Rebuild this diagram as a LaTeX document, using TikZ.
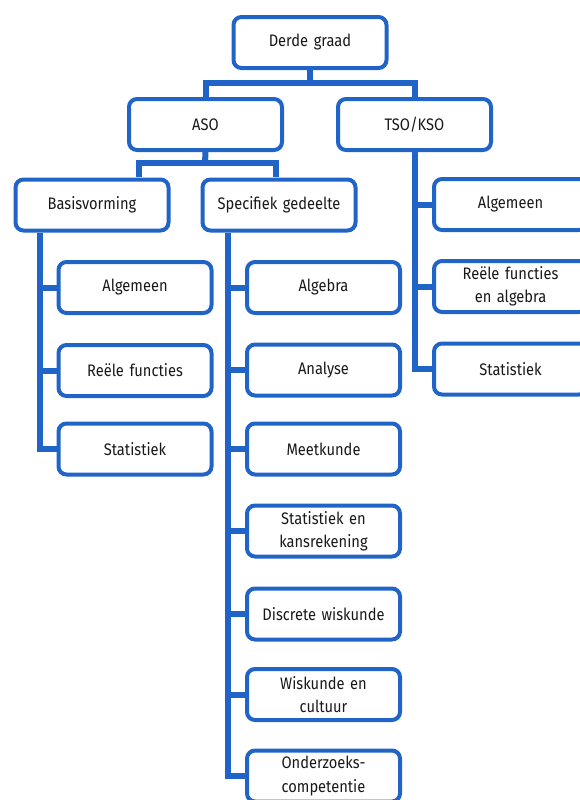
\documentclass[tikz,border=0pt]{standalone}
\usepackage{fontspec}
\setmainfont{Fira Sans}[FakeStretch=0.88]
\definecolor{vblue}{RGB}{32,100,200}
\definecolor{vtext}{RGB}{25,25,25}
\tikzset{
  box/.style={draw=vblue, line width=3pt, rounded corners=6pt, fill=white,
    minimum width=114.75pt, minimum height=38.25pt, inner sep=1pt,
    align=center, text width=108pt, text=vtext,
    font=\fontsize{12.5pt}{17.5pt}\selectfont},
  link/.style={draw=vblue, line width=4.5pt}
}
\begin{document}
\begin{tikzpicture}[x=0.75pt,y=-0.75pt]
\useasboundingbox (0,0) rectangle (580,800);
\clip (0,0) rectangle (580,800);
% connectors first
\coordinate (j1) at (310,83);
\coordinate (j2) at (205,163);
\coordinate (bd) at (139,177);
\coordinate (sd) at (276,177);
\coordinate (bt) at (40,233);
\coordinate (st) at (228,233);
\coordinate (tt) at (415,152);
% nodes
\node[box] (top) at (310,42.5) {Derde graad};
\node[box] (aso) at (205.5,124.5) {ASO};
\node[box] (tso) at (414.5,124.5) {TSO/KSO};
\node[box] (bas) at (92,205) {Basisvorming};
\node[box] (spec) at (279,205) {Specifiek gedeelte};
\node[box] (ba1) at (135,287.5) {Algemeen};
\node[box] (ba2) at (135,370.5) {Reële functies};
\node[box] (ba3) at (135,449) {Statistiek};
\node[box] (sp1) at (323.5,287.5) {Algebra};
\node[box] (sp2) at (323.5,370) {Analyse};
\node[box] (sp3) at (323.5,449) {Meetkunde};
\node[box] (sp4) at (323.5,531) {Statistiek en\\kansrekening};
\node[box] (sp5) at (323.5,614) {Discrete wiskunde};
\node[box] (sp6) at (323.5,694.5) {Wiskunde en\\cultuur};
\node[box] (sp7) at (323.5,776) {Onderzoeks-\\competentie};
\node[box] (ts1) at (510.5,204.5) {Algemeen};
\node[box] (ts2) at (510.5,286.5) {Reële functies\\en algebra};
\node[box] (ts3) at (510.5,369) {Statistiek};
% links
\begin{scope}[on background layer/.style={}]
\path[link] (top.south) -- (j1);
\path[link] (aso.north) |- (j1) -| (tso.north);
\path[link] (aso.south) -- (j2);
\path[link] (bd) |- (j2) -| (sd);
\foreach \c in {ba1,ba2,ba3} \path[link] (bt) |- (\c.west);
\foreach \c in {sp1,sp2,sp3,sp4,sp5,sp6,sp7} \path[link] (st) |- (\c.west);
\foreach \c in {ts1,ts2,ts3} \path[link] (tt) |- (\c.west);
\end{scope}
\end{tikzpicture}
\end{document}
